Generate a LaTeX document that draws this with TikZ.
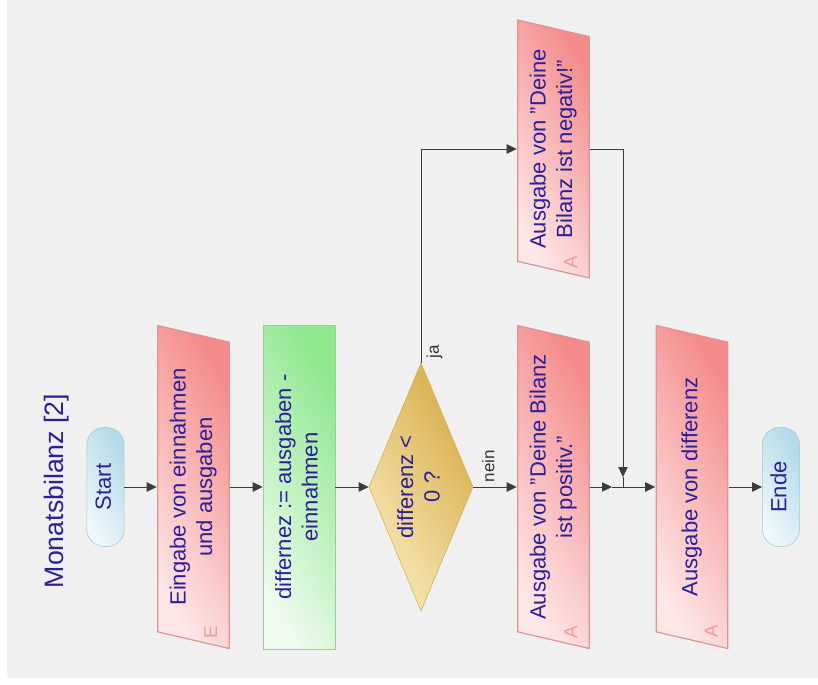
\documentclass[tikz,border=0pt]{standalone}
\usepackage{fontspec}
\setmainfont{Liberation Sans}
\usepackage{graphicx}
\usetikzlibrary{arrows.meta,shapes.geometric}
\definecolor{ink}{HTML}{2B1F9A}
\definecolor{bggray}{HTML}{F0F0F0}
\definecolor{wire}{HTML}{3C3C3C}
\definecolor{iodark}{HTML}{F48A8A}
\definecolor{iolight}{HTML}{FDE8E8}
\definecolor{ioline}{HTML}{DE9494}
\definecolor{calcdark}{HTML}{8EE88E}
\definecolor{calclight}{HTML}{EEFAEE}
\definecolor{calcline}{HTML}{9CCB9C}
\definecolor{checkdark}{HTML}{D8AC48}
\definecolor{checklight}{HTML}{F7E8B8}
\definecolor{checkline}{HTML}{D0AE4A}
\definecolor{termdark}{HTML}{B3DAE8}
\definecolor{termlight}{HTML}{EEF8FB}
\definecolor{termline}{HTML}{A6C8D4}
\definecolor{tagred}{HTML}{EE9C9C}
\newcommand{\turntext}[1]{\rotatebox{90}{\begin{tabular}{@{}c@{}}#1\end{tabular}}}

\begin{document}
\begin{tikzpicture}[x=0.75pt,y=-0.75pt,
    txt/.style={font=\fontsize{16.5}{20}\selectfont, text=ink},
    term/.style={txt, rectangle, rounded corners=13pt, inner sep=0pt,
      minimum width=28pt, minimum height=89.25pt, draw=termline,
      top color=termdark, bottom color=termlight, shading angle=-60},
    io/.style={txt, inner sep=0pt, minimum width=54.75pt, minimum height=242.25pt,
      path picture={\shadedraw[draw=ioline, line width=0.9pt, top color=iodark,
        bottom color=iolight, shading angle=-60]
        ([xshift=0.5pt]path picture bounding box.north west)
        -- ([xshift=-0.5pt,yshift=-12.5pt]path picture bounding box.north east)
        -- ([xshift=-0.5pt]path picture bounding box.south east)
        -- ([xshift=0.5pt,yshift=12.5pt]path picture bounding box.south west) -- cycle;}},
    calcbox/.style={txt, rectangle, inner sep=0pt, minimum width=54pt,
      minimum height=243pt, draw=calcline, top color=calcdark,
      bottom color=calclight, shading angle=-60},
    checkbox/.style={txt, diamond, aspect=0.42, inner sep=0pt, minimum width=78pt,
      minimum height=186pt, draw=checkline, top color=checkdark,
      bottom color=checklight, shading angle=-60},
    tag/.style={font=\fontsize{14}{14}\selectfont, text=tagred, inner sep=0pt},
    lbl/.style={font=\fontsize{12.75}{14}\selectfont, text=black!80},
    line/.style={draw=wire, line width=0.75pt},
    flow/.style={line, -{Triangle[length=7.5pt,width=7pt]}}]
  \useasboundingbox (0,0) rectangle (818,685);
  \fill[white] (0,0) rectangle (818,685);
  \fill[bggray] (7,0) rectangle (818,678);

  % title and flow
  \node[txt, font=\fontsize{20}{24}\selectfont] (title) at (57,491) {\turntext{Monatsbilanz [2]}};
  \node[term] (start) at (105.5,487) {\turntext{Start}};
  \node[io] (input) at (193.5,487) {\turntext{Eingabe von einnahmen\\und ausgaben}};
  \node[calcbox] (calc) at (299,487) {\turntext{differnez := ausgaben -\\einnahmen}};
  \node[checkbox] (check) at (421,487) {\turntext{differenz <\\0 ?}};
  \node[io] (outpos) at (553.5,487) {\turntext{Ausgabe von "Deine Bilanz\\ist positiv."}};
  \node[io, minimum height=193.5pt] (outneg) at (553.5,149) {\turntext{Ausgabe von "Deine\\Bilanz ist negativ!"}};
  \node[io] (outdiff) at (692,487) {\turntext{Ausgabe von differenz}};
  \node[term] (stop) at (781,487) {\turntext{Ende}};

  % E / A tags
  \node[tag] (inputtag) at ([shift={(-17,-16)}]input.south east) {\turntext{E}};
  \node[tag] (outpostag) at ([shift={(-17,-16)}]outpos.south east) {\turntext{A}};
  \node[tag] (outnegtag) at ([shift={(-17,-16)}]outneg.south east) {\turntext{A}};
  \node[tag] (outdifftag) at ([shift={(-15,-17)}]outdiff.south east) {\turntext{A}};

  \coordinate (joinin) at (612,487);
  \coordinate (jointop) at (623,477);
  \coordinate (join) at (623,487);

  \draw[flow] (start) -- (input);
  \draw[flow] (input) -- (calc);
  \draw[flow] (calc) -- (check);
  \draw[flow] (check.east) -- node[lbl, anchor=south, pos=0.4] (nein) {\turntext{nein}} (outpos);
  \node[lbl, anchor=south west] (ja) at (check.north) {\turntext{ja}};
  \draw[flow] (check.north) |- (outneg);
  \draw[flow] (outpos) -- (joinin);
  \draw[flow] (outneg) -| (jointop);
  \draw[line] (joinin) -- (join) (jointop) -- (join);
  \draw[flow] (join) -- (outdiff);
  \draw[flow] (outdiff) -- (stop);
\end{tikzpicture}
\end{document}
